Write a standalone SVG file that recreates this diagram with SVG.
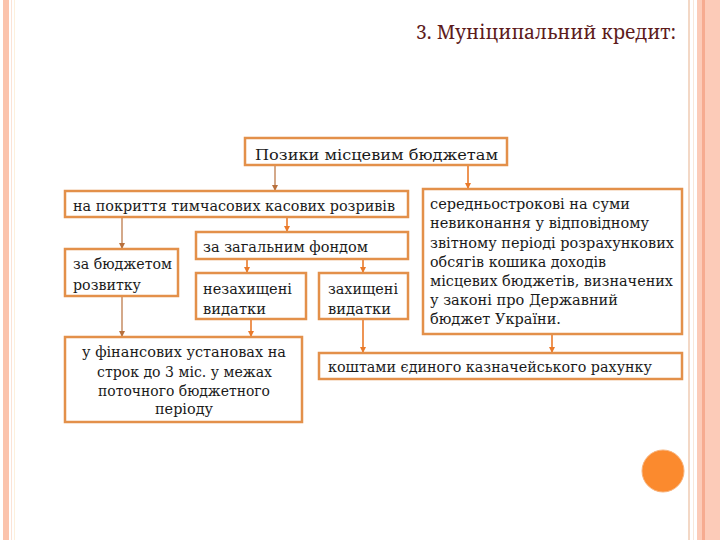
<svg xmlns="http://www.w3.org/2000/svg" width="720" height="540" viewBox="0 0 720 540">
<style>
.box{fill:#ffffff;stroke:#e3904a;stroke-width:2.5}
.t{font-size:14px;fill:#1a1a1a}
.c{stroke:#ea7a2a;stroke-width:1.6;fill:none;marker-end:url(#ah)}
.cb{stroke:#b8703c;stroke-width:1.2;fill:none;marker-end:url(#ahb)}
</style>
<defs>
<marker id="ah" markerWidth="6" markerHeight="6" refX="5" refY="3" orient="auto" markerUnits="userSpaceOnUse">
<path d="M0,0 L6,3 L0,6 Z" fill="#ea7a2a"/>
</marker>
<marker id="ahb" markerWidth="6" markerHeight="6" refX="5" refY="3" orient="auto" markerUnits="userSpaceOnUse">
<path d="M0,0 L6,3 L0,6 Z" fill="#b8703c"/>
</marker>
</defs>
<rect x="0" y="0" width="720" height="540" fill="#ffffff"/>
<g id="borders">
<rect x="3" y="0" width="6" height="540" fill="#fbc3ac"/>
<rect x="11" y="0" width="1" height="540" fill="#fbe3d6"/>
<rect x="14" y="0" width="1" height="540" fill="#fdf0dc"/>
<rect x="688" y="0" width="2" height="540" fill="#f3d8c6"/>
<rect x="693" y="0" width="1" height="540" fill="#f8e7da"/>
<rect x="697" y="0" width="23" height="540" fill="#fccbb8"/>
<rect x="702" y="0" width="3" height="540" fill="#f6ab90"/>
</g>
<text id="title" x="416" y="39" textLength="260" lengthAdjust="spacingAndGlyphs" font-family="Noto Serif, DejaVu Serif, serif" font-size="19" fill="#5e1c1c">3. Муніципальний кредит:</text>
<g id="connectors">
<line class="cb" x1="275" y1="166" x2="275" y2="190"/>
<line class="c" x1="468" y1="166" x2="468" y2="188"/>
<line class="c" x1="287" y1="218" x2="287" y2="231"/>
<line class="cb" x1="122" y1="218" x2="122" y2="248"/>
<line class="c" x1="247" y1="260" x2="247" y2="272"/>
<line class="c" x1="363" y1="260" x2="363" y2="272"/>
<line class="cb" x1="122" y1="297" x2="122" y2="336"/>
<line class="c" x1="251" y1="320" x2="251" y2="336" stroke-width="2.2"/>
<line class="c" x1="363" y1="320" x2="363" y2="352" stroke-width="2"/>
<line class="c" x1="552" y1="335" x2="552" y2="352"/>
</g>
<g font-family="DejaVu Serif, Noto Serif, serif">
<g id="n1">
<rect class="box" x="245" y="138" width="262" height="27"/>
<text class="t" x="255" y="160" font-size="16" textLength="243" lengthAdjust="spacingAndGlyphs">Позики місцевим бюджетам</text>
</g>
<g id="n2">
<rect class="box" x="65" y="191" width="343" height="26"/>
<text class="t" x="73" y="211" textLength="322" lengthAdjust="spacingAndGlyphs">на покриття тимчасових касових розривів</text>
</g>
<g id="n3">
<rect class="box" x="65" y="249" width="113" height="47"/>
<text class="t" x="73" y="269" textLength="99" lengthAdjust="spacingAndGlyphs">за бюджетом</text>
<text class="t" x="73" y="290" textLength="68" lengthAdjust="spacingAndGlyphs">розвитку</text>
</g>
<g id="n4">
<rect class="box" x="196" y="232" width="212" height="27"/>
<text class="t" x="203" y="252" textLength="165" lengthAdjust="spacingAndGlyphs">за загальним фондом</text>
</g>
<g id="n5">
<rect class="box" x="196" y="273" width="110" height="46"/>
<text class="t" x="203" y="294" textLength="89" lengthAdjust="spacingAndGlyphs">незахищені</text>
<text class="t" x="203" y="314" textLength="63" lengthAdjust="spacingAndGlyphs">видатки</text>
</g>
<g id="n6">
<rect class="box" x="319" y="273" width="89" height="46"/>
<text class="t" x="328" y="294" textLength="70" lengthAdjust="spacingAndGlyphs">захищені</text>
<text class="t" x="328" y="314" textLength="63" lengthAdjust="spacingAndGlyphs">видатки</text>
</g>
<g id="n7">
<rect class="box" x="423" y="189" width="259" height="145"/>
<text class="t" x="430" y="209" textLength="200" lengthAdjust="spacingAndGlyphs">середньострокові  на суми</text>
<text class="t" x="430" y="228" textLength="219" lengthAdjust="spacingAndGlyphs">невиконання у відповідному</text>
<text class="t" x="430" y="248" textLength="244" lengthAdjust="spacingAndGlyphs">звітному періоді розрахункових</text>
<text class="t" x="430" y="267" textLength="176" lengthAdjust="spacingAndGlyphs">обсягів кошика доходів</text>
<text class="t" x="430" y="286" textLength="243" lengthAdjust="spacingAndGlyphs">місцевих бюджетів, визначених</text>
<text class="t" x="430" y="305" textLength="188" lengthAdjust="spacingAndGlyphs">у законі про Державний</text>
<text class="t" x="430" y="324" textLength="131" lengthAdjust="spacingAndGlyphs">бюджет України.</text>
</g>
<g id="n8">
<rect class="box" x="319" y="353" width="363" height="26"/>
<text class="t" x="328" y="372" textLength="324" lengthAdjust="spacingAndGlyphs">коштами єдиного казначейського рахунку</text>
</g>
<g id="n9">
<rect class="box" x="65" y="337" width="237" height="85"/>
<text class="t" x="82" y="357" textLength="204" lengthAdjust="spacingAndGlyphs">у фінансових установах на</text>
<text class="t" x="97" y="377" textLength="175" lengthAdjust="spacingAndGlyphs">строк до 3 міс. у межах</text>
<text class="t" x="98" y="396" textLength="172" lengthAdjust="spacingAndGlyphs">поточного бюджетного</text>
<text class="t" x="155" y="414" textLength="58" lengthAdjust="spacingAndGlyphs">періоду</text>
</g>
</g>
<circle id="dot" cx="663" cy="471" r="21" fill="#fb8a2e" stroke="#f8b27a" stroke-width="1"/>
</svg>
